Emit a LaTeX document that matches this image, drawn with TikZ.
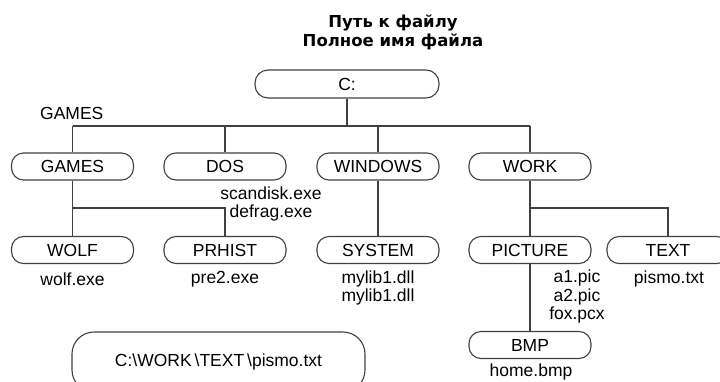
\documentclass[tikz,border=0pt]{standalone}
\usepackage{fontspec}
\setmainfont{Liberation Sans}
\newfontfamily\titlefont{DejaVu Sans}
\usetikzlibrary{positioning}

\tikzset{
  folder/.style={draw=black!75, line width=1.1pt, rounded corners=12pt,
    minimum width=122pt, minimum height=27pt, inner sep=0pt},
  file/.style={inner sep=0pt, align=center},
  line/.style={black!75, line width=1.1pt}
}

\begin{document}
\begin{tikzpicture}[x=1pt, y=-1pt, font=\fontsize{17.5}{18.5}\selectfont]
        \useasboundingbox (0,0) rectangle (720,381);
        \clip (0,0) rectangle (720,381);

        \node[file, font=\titlefont\bfseries\fontsize{16.5}{19.5}\selectfont] (title) at (393,32.5) {Путь к файлу\\Полное имя файла};
        \node[folder, minimum width=184pt, minimum height=28pt, rounded corners=13pt] (c) at (347,84) {C:};
        \node[file, anchor=west] (gameslabel) at (40,113) {GAMES};

        \node[folder] (games) at (72.5,166.5) {GAMES};
        \node[folder] (dos) at (225,166.5) {DOS};
        \node[folder] (windows) at (378,166.5) {WINDOWS};
        \node[folder] (work) at (530,166.5) {WORK};
        \node[file] (dosfiles) at (271,204) {scandisk.exe\\defrag.exe};

        \node[folder] (wolf) at (72.5,250) {WOLF};
        \node[folder] (prhist) at (225,250) {PRHIST};
        \node[folder] (system) at (378,250) {SYSTEM};
        \node[folder] (picture) at (530,250) {PICTURE};
        \node[folder] (text) at (668,250) {TEXT};

        \node[file] (wolffiles) at (72.5,279) {wolf.exe};
        \node[file] (prhistfiles) at (225,279) {pre2.exe};
        \node[file] (systemfiles) at (378,288) {mylib1.dll\\mylib1.dll};
        \node[file] (picturefiles) at (577,296.5) {a1.pic\\a2.pic\\fox.pcx};
        \node[file] (textfiles) at (669,279) {pismo.txt};

        \node[folder] (bmp) at (530,345) {BMP};
        \node[file] (bmpfiles) at (531,372) {home.bmp};
        \node[folder, minimum width=293pt, minimum height=60pt, rounded corners=22pt] (path) at (218.5,362) {C:\textbackslash WORK\,\textbackslash TEXT\,\textbackslash pismo.txt};

        \coordinate (bus) at (0,126);
        \coordinate (fork) at (0,208);

        \draw[line] (c) -- (c |- bus);
        \draw[line] (games |- bus) -- (work |- bus);
        \foreach \n in {games, dos, windows, work}
            \draw[line] (\n |- bus) -- (\n);
        \draw[line] (games) -- (wolf);
        \draw[line] (games |- fork) -- (prhist |- fork) -- (prhist);
        \draw[line] (windows) -- (system);
        \draw[line] (work) -- (picture);
        \draw[line] (work |- fork) -- (text |- fork) -- (text);
        \draw[line] (picture) -- (bmp);
    \end{tikzpicture}
\end{document}
